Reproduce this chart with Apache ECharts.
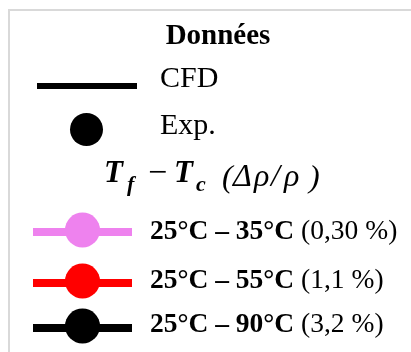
<!DOCTYPE html>
<html>
<head>
<meta charset="utf-8">
<script src="https://cdn.jsdelivr.net/npm/echarts@6/dist/echarts.min.js"></script>
<style>
html,body{margin:0;padding:0;background:#fff;}
#c{width:411px;height:352px;}
</style>
</head>
<body>
<div id="c"></div>
<script>
const groupTitle = 'Données';
const typeLabels = ['CFD', 'Exp.'];
const caseLabels = ['25°C – 35°C', '25°C – 55°C', '25°C – 90°C'];
const casePercents = ['0,30 %', '1,1 %', '3,2 %'];
const caseColors = ['#ee82ee', '#ff0000', '#000000'];

const SERIF = '"Liberation Serif", "Times New Roman", serif';

const chart = echarts.init(document.getElementById('c'), null, {renderer: 'canvas'});

// place text by its alphabetic baseline (canvas 'middle' sits ~0.305em above baseline)
function txt(str, x, baseline, size, weight, style, align) {
  return {type: 'text', x: x, y: baseline - 0.305 * size, style: {
    text: str, font: (style || '') + ' ' + (weight || '') + ' ' + size + 'px ' + SERIF,
    fill: '#000', align: align || 'left', verticalAlign: 'middle'}};
}

const g = [];
// frame
g.push({type: 'rect', shape: {x: 9, y: 10, width: 420, height: 360},
  style: {fill: 'none', stroke: '#d9d9d9', lineWidth: 2}});
// title
g.push(txt(groupTitle, 218, 45.5, 29, 'bold', '', 'center'));
// CFD / Exp.
g.push({type: 'line', shape: {x1: 37, y1: 86, x2: 137, y2: 86}, style: {stroke: '#000', lineWidth: 6}});
g.push({type: 'circle', shape: {cx: 86.5, cy: 129.5, r: 16.5}, style: {fill: '#000'}});
const typeBase = [88, 135];
typeLabels.forEach((t, i) => g.push(txt(t, 160, typeBase[i], 30)));
// math header: T_f − T_c  (Δρ/ρ)
g.push(txt('T', 104, 183, 31, 'bold', 'italic'));
g.push(txt('f', 127, 192, 22, 'bold', 'italic'));
g.push(txt('−', 157.5, 184.5, 34, '', '', 'center'));
g.push(txt('T', 174, 183, 31, 'bold', 'italic'));
g.push(txt('c', 196, 192, 22, 'bold', 'italic'));
g.push(txt('(', 222, 188, 32, '', 'italic'));
g.push(txt('Δ', 233, 187, 32, '', 'italic'));
g.push(txt('ρ', 254, 187, 32, '', 'italic'));
g.push(txt('/', 271, 187, 32, '', 'italic'));
g.push(txt('ρ', 284, 187, 32, '', 'italic'));
g.push(txt(')', 309, 188, 32, '', 'italic'));
// cases
const caseRows = [230, 281, 326];
const caseBase = [240, 289, 333];
const CFS = 27.5;
caseLabels.forEach((lab, i) => {
  const y = caseRows[i];
  g.push({type: 'line', shape: {x1: 33, y1: y + 2, x2: 132, y2: y + 2},
    style: {stroke: caseColors[i], lineWidth: 8}});
  g.push({type: 'circle', shape: {cx: 82.5, cy: y, r: 17.5}, style: {fill: caseColors[i]}});
  g.push({type: 'text', x: 150, y: caseBase[i] - 0.305 * CFS, style: {
    text: '{b|' + lab + '}{r| (' + casePercents[i] + ')}',
    align: 'left', verticalAlign: 'middle',
    rich: {
      b: {font: 'bold ' + CFS + 'px ' + SERIF, fill: '#000'},
      r: {font: CFS + 'px ' + SERIF, fill: '#000'}
    }
  }});
});

chart.setOption({backgroundColor: '#fff', animation: false, graphic: {elements: g}});
</script>
</body>
</html>
